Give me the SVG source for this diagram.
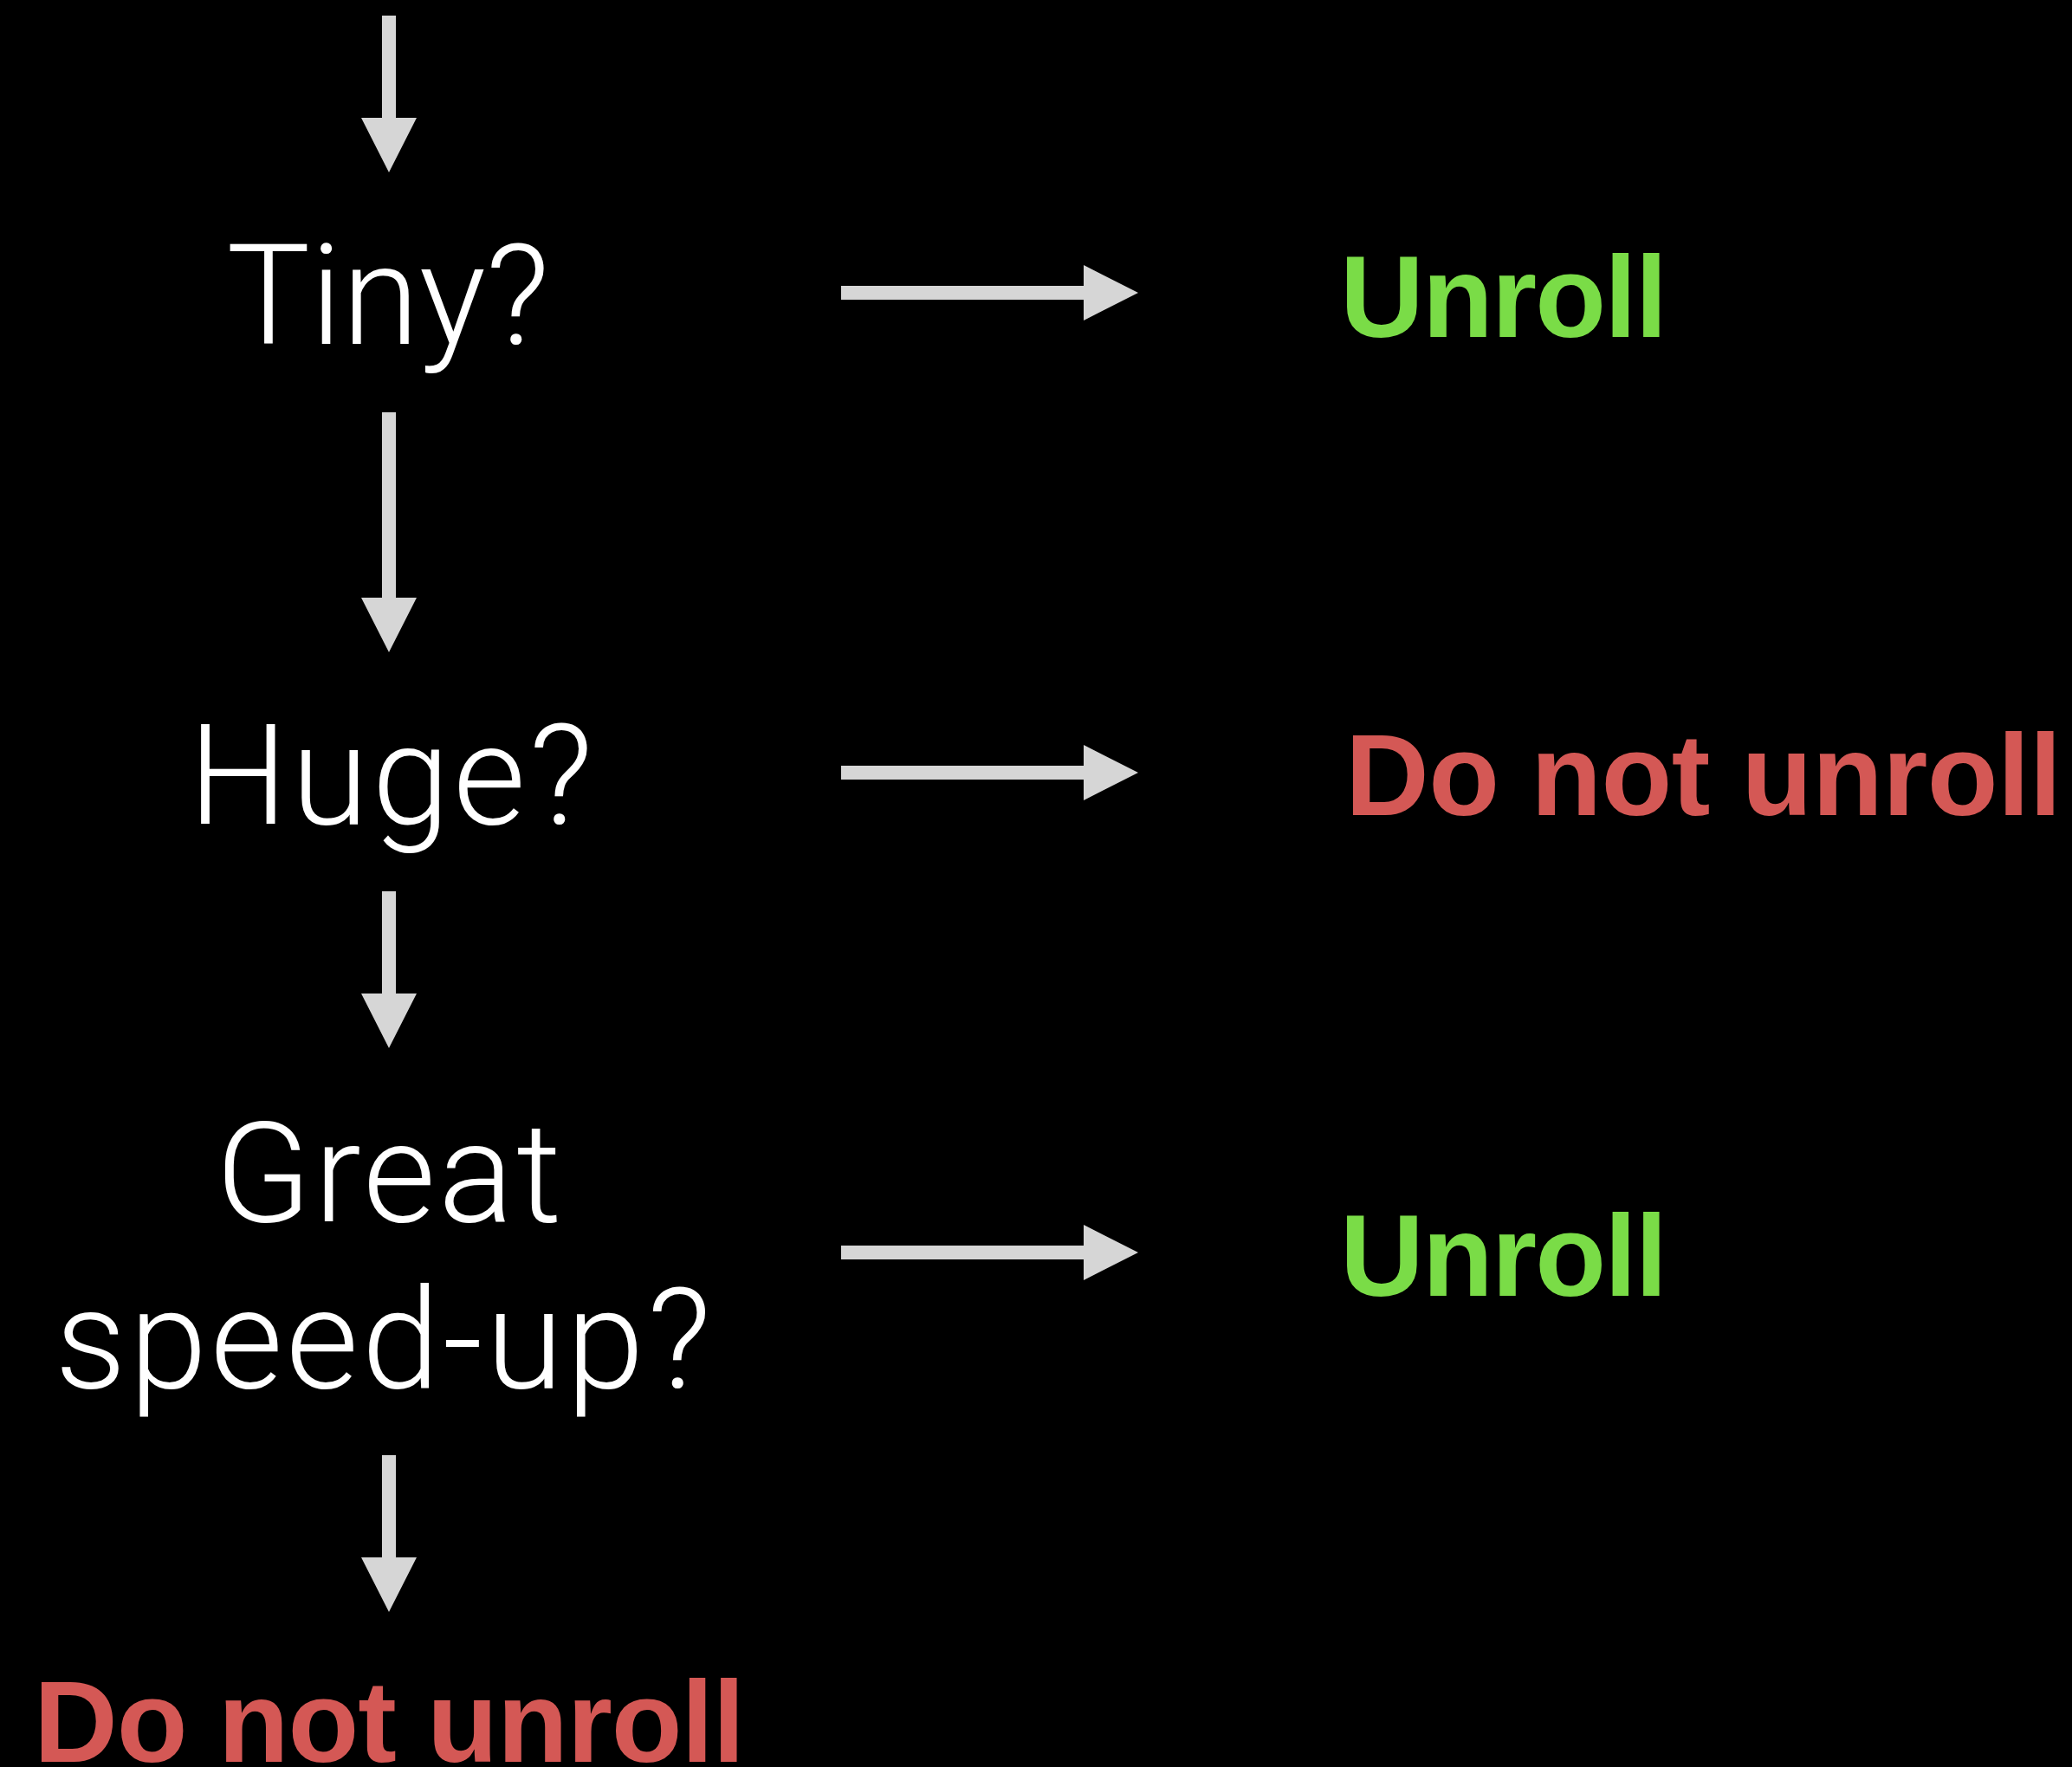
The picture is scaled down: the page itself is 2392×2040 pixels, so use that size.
<svg xmlns="http://www.w3.org/2000/svg" width="2392" height="2040" viewBox="0 0 2392 2040">
  <style>
    .q { font-family: Roboto, "Liberation Sans", sans-serif; font-weight: 300; font-size: 162px; fill: #ffffff; text-anchor: middle; }
    .yes { font-family: "Liberation Sans", Arial, sans-serif; font-weight: bold; font-size: 134px; fill: #7ADC47; }
    .no { font-family: "Liberation Sans", Arial, sans-serif; font-weight: bold; font-size: 134px; fill: #D45855; }
    .arrow { fill: #D6D6D6; }
  </style>
  <rect width="2392" height="2040" fill="#000000"/>

  <!-- block arrows: 16px shaft, 64px wide head, 63px long -->
  <g id="connectors" class="arrow">
    <!-- vertical flow -->
    <path d="M441,18 H457 V136 H481 L449,199 L417,136 H441 Z"/>
    <path d="M441,476 H457 V690 H481 L449,753 L417,690 H441 Z"/>
    <path d="M441,1029 H457 V1147 H481 L449,1210 L417,1147 H441 Z"/>
    <path d="M441,1680 H457 V1798 H481 L449,1861 L417,1798 H441 Z"/>
    <!-- horizontal branches -->
    <path d="M971,330 V346 H1251 V370 L1314,338 L1251,306 V330 Z"/>
    <path d="M971,884 V900 H1251 V924 L1314,892 L1251,860 V884 Z"/>
    <path d="M971,1438 V1454 H1251 V1478 L1314,1446 L1251,1414 V1438 Z"/>
  </g>

  <g id="tiny">
    <text class="q" x="448" y="397">Tiny?</text>
  </g>
  <g id="huge">
    <text class="q" x="453" y="951" letter-spacing="4">Huge?</text>
  </g>
  <g id="speedup">
    <text class="q" x="450" y="1410" letter-spacing="3.3">Great</text>
    <text class="q" x="444" y="1602" letter-spacing="3.6">speed-up?</text>
  </g>
  <g id="unroll-1">
    <text class="yes" x="1547" y="389" textLength="378">Unroll</text>
  </g>
  <g id="no-unroll-1">
    <text class="no" x="1553" y="941" textLength="827">Do not unroll</text>
  </g>
  <g id="unroll-2">
    <text class="yes" x="1547" y="1496" textLength="378">Unroll</text>
  </g>
  <g id="no-unroll-2">
    <text class="no" x="39" y="2034" textLength="821">Do not unroll</text>
  </g>
</svg>
